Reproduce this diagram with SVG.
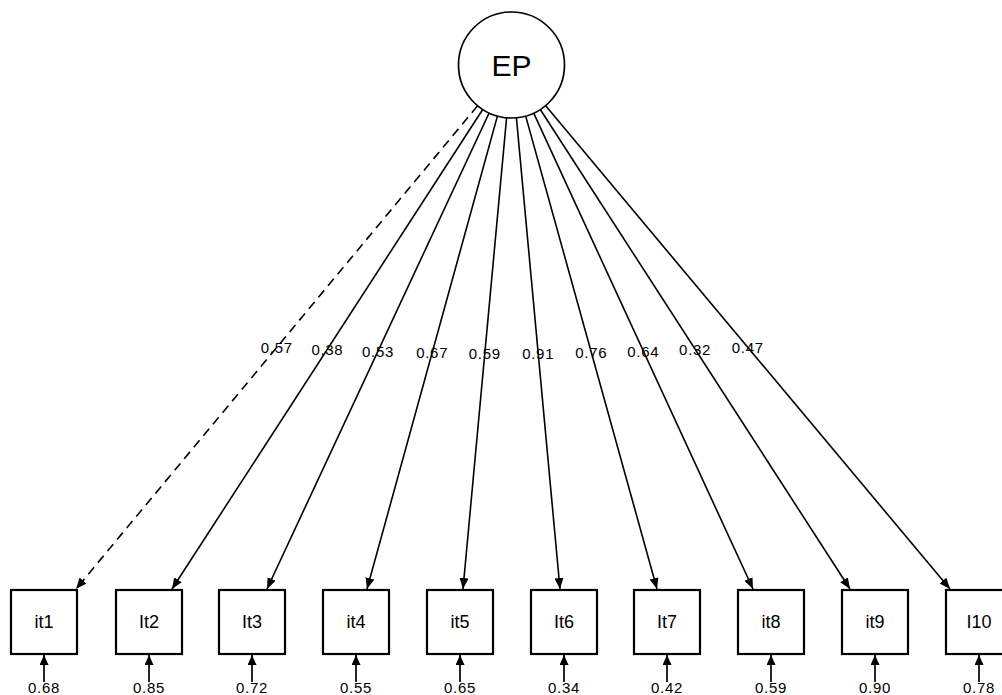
<svg xmlns="http://www.w3.org/2000/svg" width="1002" height="695" viewBox="0 0 1002 695">
<style>
.node rect{fill:#fff;stroke:#000;stroke-width:2.2}
.node text{font-family:"Liberation Sans",Arial,sans-serif;font-size:18px;text-anchor:middle;fill:#000}
.lat circle{fill:#fff;stroke:#000;stroke-width:1.7}
.lat text{font-family:"Liberation Sans",Arial,sans-serif;font-size:30px;text-anchor:middle;fill:#000}
.edge{stroke:#000;stroke-width:1.6;fill:none;marker-end:url(#ah)}
.dash{stroke-dasharray:9 6}
.err{stroke:#000;stroke-width:1.7;fill:none;marker-end:url(#ahs)}
.lbl{font-family:"Liberation Sans",Arial,sans-serif;font-size:15px;text-anchor:middle;fill:#000;letter-spacing:0.7px}
</style>
<defs>
<marker id="ah" markerUnits="userSpaceOnUse" markerWidth="11" markerHeight="9" refX="11" refY="4.5" orient="auto">
<path d="M0,0 L11,4.5 L0,9 z" fill="#000"/>
</marker>
<marker id="ahs" markerUnits="userSpaceOnUse" markerWidth="10" markerHeight="9" refX="10" refY="4.5" orient="auto">
<path d="M0,0 L10,4.5 L0,9 z" fill="#000"/>
</marker>
</defs>
<rect width="1002" height="695" fill="#fff"/>
<g id="connectors">
<line class="edge dash" x1="477.6" y1="105.8" x2="76" y2="589"/>
<line class="edge" x1="482.7" y1="109.5" x2="172" y2="589"/>
<line class="edge" x1="489.1" y1="113.0" x2="267" y2="589"/>
<line class="edge" x1="497.4" y1="116.1" x2="367" y2="589"/>
<line class="edge" x1="506.6" y1="117.8" x2="463" y2="589"/>
<line class="edge" x1="516.4" y1="117.8" x2="560" y2="589"/>
<line class="edge" x1="525.7" y1="116.1" x2="657" y2="589"/>
<line class="edge" x1="533.7" y1="113.1" x2="753" y2="589"/>
<line class="edge" x1="540.3" y1="109.5" x2="850" y2="589"/>
<line class="edge" x1="545.5" y1="105.6" x2="950" y2="589"/>
<line class="err" x1="44" y1="682" x2="44" y2="655"/>
<line class="err" x1="149" y1="682" x2="149" y2="655"/>
<line class="err" x1="252" y1="682" x2="252" y2="655"/>
<line class="err" x1="356" y1="682" x2="356" y2="655"/>
<line class="err" x1="460" y1="682" x2="460" y2="655"/>
<line class="err" x1="564" y1="682" x2="564" y2="655"/>
<line class="err" x1="667" y1="682" x2="667" y2="655"/>
<line class="err" x1="771" y1="682" x2="771" y2="655"/>
<line class="err" x1="875" y1="682" x2="875" y2="655"/>
<line class="err" x1="979" y1="682" x2="979" y2="655"/>
<text class="lbl" x="276.8" y="353">0.57</text>
<text class="lbl" x="327.4" y="354.8">0.38</text>
<text class="lbl" x="378.0" y="356.5">0.53</text>
<text class="lbl" x="432.2" y="358.1">0.67</text>
<text class="lbl" x="484.8" y="358.9">0.59</text>
<text class="lbl" x="538.2" y="358.9">0.91</text>
<text class="lbl" x="591.3" y="358.1">0.76</text>
<text class="lbl" x="643.3" y="356.5">0.64</text>
<text class="lbl" x="695.1" y="354.7">0.32</text>
<text class="lbl" x="747.8" y="352.8">0.47</text>
<text class="lbl" x="44" y="693">0.68</text>
<text class="lbl" x="149" y="693">0.85</text>
<text class="lbl" x="252" y="693">0.72</text>
<text class="lbl" x="356" y="693">0.55</text>
<text class="lbl" x="460" y="693">0.65</text>
<text class="lbl" x="564" y="693">0.34</text>
<text class="lbl" x="667" y="693">0.42</text>
<text class="lbl" x="771" y="693">0.59</text>
<text class="lbl" x="875" y="693">0.90</text>
<text class="lbl" x="979" y="693">0.78</text>
</g>
<g id="EP" class="lat"><circle cx="511.5" cy="65" r="53"/><text x="511.5" y="76">EP</text></g>
<g id="it1" class="node"><rect x="11" y="590" width="66" height="64"/><text x="44" y="628">it1</text></g>
<g id="it2" class="node"><rect x="116" y="590" width="66" height="64"/><text x="149" y="628">It2</text></g>
<g id="it3" class="node"><rect x="219" y="590" width="66" height="64"/><text x="252" y="628">It3</text></g>
<g id="it4" class="node"><rect x="323" y="590" width="66" height="64"/><text x="356" y="628">it4</text></g>
<g id="it5" class="node"><rect x="427" y="590" width="66" height="64"/><text x="460" y="628">it5</text></g>
<g id="it6" class="node"><rect x="531" y="590" width="66" height="64"/><text x="564" y="628">It6</text></g>
<g id="it7" class="node"><rect x="634" y="590" width="66" height="64"/><text x="667" y="628">It7</text></g>
<g id="it8" class="node"><rect x="738" y="590" width="66" height="64"/><text x="771" y="628">it8</text></g>
<g id="it9" class="node"><rect x="842" y="590" width="66" height="64"/><text x="875" y="628">it9</text></g>
<g id="it10" class="node"><rect x="946" y="590" width="66" height="64"/><text x="979" y="628">I10</text></g>
</svg>
